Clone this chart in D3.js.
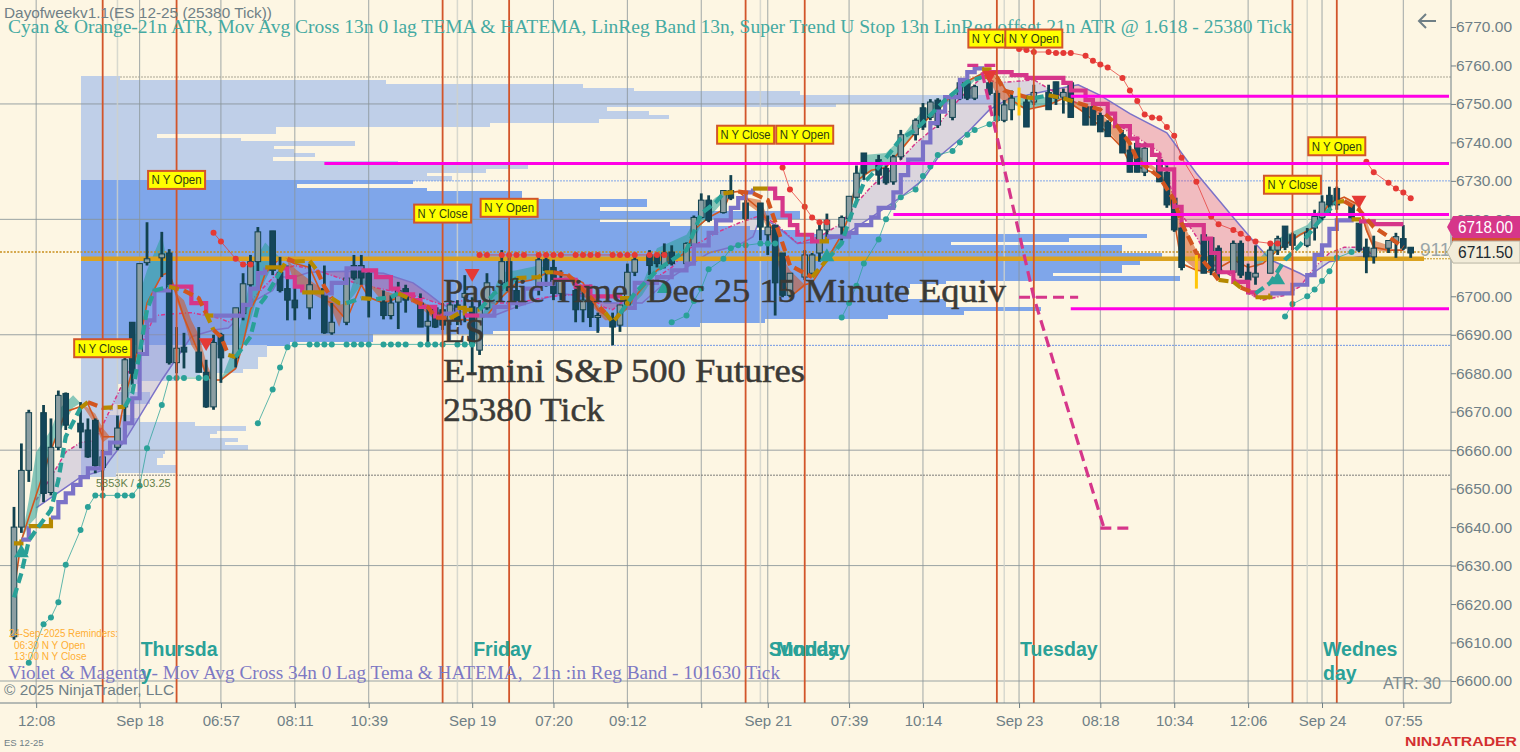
<!DOCTYPE html>
<html>
<head>
<meta charset="utf-8">
<style>
  html, body { margin: 0; padding: 0; background: #fdf6e3; overflow: hidden; }
  svg { display: block; }
  text { font-family: "Liberation Sans", Arial, sans-serif; }
  .serif { font-family: "Liberation Serif", serif; }
</style>
<script src="https://cdn.jsdelivr.net/npm/d3@7"></script>
</head>
<body>
<svg id="chart" width="1520" height="752"></svg>
<script>
// slot = bar number from the left edge of the chart

// [slot, open, high, low, close]
var candles = [
  [0,6611.5,6645.25,6610.75,6640],[1,6640,6661.75,6638.5,6654.75],[2,6654.75,6670.5,6651.75,6669.75],
  [4,6669.75,6671.75,6646.5,6648.75],[5,6649,6668.25,6648.25,6660.75],[6,6660.75,6675.5,6660,6674.25],[7,6674.75,6675,6665.25,6666.5],
  [9,6667,6672.5,6660.5,6664.75],[10,6665.25,6668.25,6658,6658.25],[11,6667.75,6668.25,6654,6656],[12,6655.5,6660,6649.5,6658.25],
  [14,6660.75,6669,6660,6665.75],[15,6671.25,6684.25,6664.5,6683.5],[16,6693.25,6693.25,6677,6680],[17,6685.25,6708.5,6680.75,6708.5],[18,6708.75,6719.25,6708,6709.75],
  [20,6710,6716.75,6705,6711],[21,6711.25,6712.25,6682.25,6682.75],[22,6682.75,6692,6680,6686.5],[23,6686.75,6690.5,6681.25,6685.5],
  [25,6685.5,6692,6680.25,6680.25],[26,6680.25,6683.5,6671,6671.25],[27,6671.25,6690,6670.5,6688],[28,6690,6690.5,6677.5,6684],
  [30,6684,6697,6681.5,6697],[31,6695.5,6706,6693.75,6703.25],[32,6703,6710.75,6701,6709],[33,6709,6718,6705,6716.75],
  [35,6717,6717,6705.5,6706.75],[36,6706.25,6710.25,6701,6701.5],[37,6702,6708,6693.75,6699],[38,6699,6703,6693.75,6697],
  [40,6697,6708.5,6694,6703],[42,6702,6708,6690.25,6690.5],[43,6690.5,6698.25,6690,6693.25],
  [45,6693.25,6705.5,6692.5,6704.75],[46,6708,6710.75,6704.25,6704.75],[47,6708,6710.75,6703,6704.75],[48,6706,6706.75,6694.5,6699.75],
  [50,6698.5,6701.5,6694,6695],[51,6695,6700.25,6694,6698.25],[52,6698.5,6703.75,6691.5,6701.5],[53,6702,6703,6695.75,6699],
  [55,6698.25,6700.75,6692,6692],[56,6692.25,6697.75,6688,6693.5],[57,6697,6697,6691.75,6692],[58,6696.5,6698.25,6691.25,6692.5],
  [59,6693.75,6699,6692.5,6697.75],[60,6697.75,6699,6692.5,6693.75],[61,6699.75,6705.5,6693.25,6700.75],[62,6697.25,6699.75,6679.5,6687.75],
  [63,6686,6699,6684.75,6697],[64,6697,6706,6696.5,6703.5],[66,6703.5,6712,6701.5,6709],[67,6709,6710.25,6701,6701.5],[68,6701.5,6704.25,6696.75,6698.25],
  [71,6702.5,6710.75,6700.25,6709.5],[72,6709.5,6710,6702.5,6706.75],[73,6707.5,6709.5,6699,6700.75],[74,6700.75,6706.75,6699,6704.25],
  [76,6701.5,6704.25,6693.25,6696.5],[77,6696.5,6701.5,6693.25,6699],[78,6699.75,6703,6692,6694.5],[79,6694.5,6695.75,6690.5,6695],
  [81,6693.75,6695.75,6687.25,6692],[82,6692.5,6697.75,6690.75,6697.75],[83,6697.75,6708.5,6697,6706.25],[84,6706.25,6710.25,6705.25,6709.5],
  [86,6710.75,6712,6705.5,6708],[87,6710.75,6711.25,6707.5,6708.5],[88,6708,6713.75,6707.25,6711.25],[89,6711.5,6713.25,6708,6708.5],
  [91,6708.5,6714,6708,6713.75],[92,6713.25,6721,6712.75,6720.5],[93,6720.5,6726.75,6720.25,6725],[94,6725,6726.25,6719.25,6719.75],
  [96,6721.75,6727.5,6721.5,6727.5],[97,6727.5,6731.5,6725,6725.5],[99,6724.25,6726.25,6719.75,6720.25],
  [101,6724.25,6724.25,6714.5,6718],[102,6716,6721,6710.75,6718],[103,6718.5,6718.5,6695,6703.5],[104,6711.25,6711.25,6699.75,6700.25],[105,6700.25,6706,6699.75,6706],
  [107,6705,6712,6704.25,6710.75],[108,6706,6711.25,6705,6710.75],[109,6711.25,6719,6709,6717.25],[110,6717.25,6721.5,6714.5,6719.75],
  [112,6718,6721,6714.5,6720.5],[113,6720.25,6726,6719.75,6726],[114,6725.75,6734,6725,6732],[115,6737.25,6737.25,6730.25,6732],
  [117,6735.5,6736.75,6729,6731.5],[118,6733.25,6734,6729,6729.5],[119,6729.75,6736.75,6729,6736.25],[120,6736.25,6743.25,6735.5,6742],
  [122,6742,6746.25,6740.5,6745.75],[123,6749,6750.25,6743.25,6744],[124,6746.5,6751.25,6745.75,6750.5],[125,6751,6751.5,6743.75,6744.5],
  [127,6746.5,6752,6745.75,6751.5],[128,6755.5,6756.25,6751,6751.5],[129,6755.75,6755.75,6751,6751.5],[130,6751.5,6755,6751,6754.5],
  [132,6755.5,6756.25,6752.25,6752.75],[133,6752.75,6753.5,6745.25,6745.75],[134,6745.75,6751,6745.25,6749.75],[135,6748.5,6753.5,6745.75,6751.5],
  [137,6750.5,6752.25,6744,6744],[138,6750.5,6755,6749.75,6753],[140,6753,6755,6748.5,6748.5],[141,6755.75,6755.75,6749.75,6751.5],[142,6751.75,6754,6747.5,6753],[143,6755.5,6755.5,6746.5,6746.5],
  [145,6749.25,6749.75,6744.5,6744.5],[146,6749.25,6749.75,6744.5,6744.5],[147,6747,6747.75,6742.75,6742.75],[148,6745.25,6745.75,6741.5,6741.5],
  [150,6742,6743.25,6737.25,6737.25],[151,6738,6739.25,6732.25,6732.25],[152,6739.75,6740.5,6732.25,6732.25],[153,6732.25,6739.75,6731.25,6738.5],
  [155,6735.5,6736.75,6729.75,6729.75],[156,6732.25,6734,6723,6723.75],[157,6725.5,6727.5,6716.75,6717.25],[158,6717.75,6718.5,6706.75,6707.5],
  [161,6716,6716,6706,6706],[162,6715.25,6715.25,6705.5,6706.75],[163,6712.5,6713.25,6704.25,6706],
  [165,6706.25,6714.5,6705.5,6713.75],[166,6713.75,6714.5,6704.75,6705.5],[167,6706.25,6708.5,6700.75,6704.25],[168,6705,6713.25,6703,6706],
  [170,6706,6713.25,6706,6712],[171,6712,6715.75,6710.75,6715],[172,6718.25,6718.25,6712,6712.75],[173,6716,6716.5,6712,6713.25],
  [175,6713.25,6717.75,6712.75,6716.5],[176,6717.75,6722.5,6714.5,6720.75],[177,6720.5,6726.25,6719.75,6724.5],[178,6726.25,6728.5,6721,6723.75],[179,6728,6728.5,6722.5,6723.75],
  [181,6723.75,6723.75,6719.75,6720.25],[182,6719,6719,6711.5,6712],[183,6712.75,6715,6706,6710.25],[184,6710.25,6715.75,6708.5,6712.5],
  [186,6712.5,6714.5,6711.25,6714.5],[187,6714,6716.5,6710,6715.5],[188,6715,6718.5,6712,6712.5],[189,6712.75,6712.75,6710,6711.25]
];

// thick dashed moving average: [slot, price, phase] t = up, o = down, g = turning
var fastAvg = [
  [0,6621.75,"t"],[1,6628,"t"],[2,6636.5,"t"],[3,6639.25,"t"],[5,6644.5,"t"],[6,6652.25,"t"],[7,6663.5,"t"],[9,6671,"g"],[10,6672.5,"o"],[12,6671,"g"],
  [15,6671.25,"t"],[16,6674.75,"t"],[17,6685.25,"t"],[18,6696.5,"t"],[19,6701.5,"t"],[21,6702.5,"g"],[23,6701.5,"o"],[25,6699.5,"o"],[26,6695.5,"g"],
  [27,6691.25,"o"],[28,6689.5,"o"],[29,6684.75,"g"],[30,6684.25,"t"],[32,6689.5,"t"],[33,6697.25,"t"],[34,6699.75,"t"],[36,6706.25,"g"],[37,6709.75,"o"],
  [38,6709,"g"],[40,6709.25,"g"],[41,6706.75,"o"],[42,6702.5,"o"],[43,6699.5,"g"],[44,6698.25,"g"],[45,6698.25,"t"],[47,6699.5,"g"],[49,6699.25,"t"],
  [51,6699.75,"t"],[52,6700.75,"g"],[54,6699,"o"],[56,6697.25,"o"],[57,6694.5,"o"],[59,6694.25,"g"],[61,6696.5,"g"],[63,6696.5,"t"],[65,6700.75,"t"],
  [67,6703.5,"t"],[68,6704.75,"g"],[71,6705,"g"],[72,6706.25,"g"],[73,6706.25,"o"],[75,6705.5,"o"],[78,6699.75,"o"],[80,6695.75,"g"],[81,6693.25,"g"],
  [82,6695.5,"t"],[84,6700.75,"t"],[87,6706.75,"t"],[91,6712,"t"],[93,6721.5,"t"],[95,6724.5,"t"],[96,6726.75,"g"],[98,6727.25,"o"],[100,6726.75,"o"],
  [102,6725,"o"],[104,6713.75,"o"],[105,6708,"o"],[108,6705,"g"],[110,6709.5,"t"],[112,6713.75,"t"],[113,6719.75,"t"],[115,6729.5,"t"],[117,6733.5,"t"],
  [120,6741,"t"],[122,6743.25,"t"],[126,6751,"t"],[129,6755.75,"t"],[131,6757,"g"],[133,6757,"o"],[134,6753.5,"o"],[137,6751.75,"g"],[138,6751.5,"t"],
  [140,6752.25,"g"],[142,6751.5,"g"],[144,6750.25,"o"],[147,6748.5,"o"],[149,6745,"o"],[151,6739.75,"o"],[152,6735.5,"o"],[155,6731,"o"],[157,6725,"o"],
  [158,6719,"o"],[160,6711.25,"o"],[162,6706.75,"o"],[163,6704.25,"g"],[165,6703.75,"g"],[166,6702.25,"o"],[168,6700.75,"t"],[170,6703.5,"t"],[172,6709.5,"t"],
  [174,6713.25,"t"],[177,6720.5,"t"],[179,6724.5,"g"],[180,6724.75,"o"],[182,6722.5,"o"],[184,6718,"o"],[186,6715.5,"o"],[188,6712.75,"o"]
];

// thin orange average: [slot, price]
var slowAvg = [
  [0,6623.5],[1,6636.5],[2,6642.5],[5,6660],[7,6670],[10,6672],[12,6663.5],[14,6663.5],[15,6673.75],[17,6687.75],[18,6698.25],[20,6705.5],[21,6706.25],
  [23,6694.5],[25,6685.25],[26,6679.5],[27,6678.25],[28,6678.25],[30,6681.25],[31,6687.75],[32,6696.5],[33,6700.25],[34,6706],[36,6710],[38,6708.5],[40,6707.5],
  [42,6699],[43,6698.25],[45,6693.75],[46,6698.5],[47,6703],[48,6699.75],[50,6698.25],[53,6700.25],[54,6699.5],[56,6697.25],[57,6696.5],[58,6694.25],[62,6693.75],
  [64,6695],[66,6699.75],[68,6703.5],[70,6704.25],[72,6706],[75,6705.5],[77,6703.5],[79,6696.5],[81,6693.75],[83,6697],[84,6699.75],[87,6706.75],[91,6711.5],
  [92,6717.25],[94,6720.5],[96,6722.5],[97,6727],[98,6727.25],[101,6722.5],[103,6716.5],[104,6704.25],[105,6699.75],[107,6703],[108,6703.5],[110,6709.5],[112,6716],
  [113,6721],[114,6730],[116,6732.75],[118,6733.5],[120,6738],[123,6745],[126,6750.25],[128,6755],[132,6758.75],[133,6757.5],[135,6751],[137,6748.5],[140,6749.75],
  [142,6751.5],[145,6747.5],[148,6742.5],[150,6738.5],[151,6734.5],[154,6732.25],[156,6729.5],[157,6719.75],[158,6708.5],[160,6706.75],[162,6706.25],[165,6709.5],
  [167,6707.5],[169,6708.5],[171,6712],[174,6716],[176,6718],[178,6724.25],[180,6725.75],[182,6723.75],[183,6717.25],[184,6712.75],[186,6712],[188,6712]
];

// ribbon between the averages, one list per run: [slot, edge, edge]
var ribbonUp = [
  [[1,6636.5,6636.5],[2,6647,6640.5],[3,6659.5,6642.5],[5,6665.25,6660],[6,6670.5,6664],[8,6674.25,6671],[9,6672.25,6672.25]],
  [[15,6670.5,6669],[16,6682.5,6678.25],[17,6700.75,6687.75],[18,6706.75,6698.25],[20,6716,6705.5],[21,6706.25,6706.25]],
  [[28,6678.25,6678.25],[30,6688,6681.5],[31,6695.5,6687.75],[32,6705,6693.75],[33,6710.75,6700.25],[34,6714,6704.25],[35,6712,6708],[36,6710,6710]],
  [[45,6698.25,6698.25],[46,6704.25,6700.25],[47,6705.5,6703],[48,6703,6703]],
  [[63,6693.75,6693.75],[64,6697.75,6695],[66,6706.25,6699.75],[68,6706.75,6703.5],[71,6708,6704.25],[72,6707.25,6706]],
  [[81,6693.75,6693.75],[83,6699,6696.5],[85,6703,6700.25],[87,6712.5,6706.25],[91,6716,6710.75],[93,6722.5,6718.5],[95,6725.75,6722.5],[97,6727.5,6727]],
  [[108,6703.5,6703.5],[110,6710,6709],[112,6716,6713.75],[114,6730.75,6727.5],[115,6736.75,6731.5],[118,6737.25,6733.5],[120,6741,6738],[123,6748.5,6745.25],[126,6751,6749.75],[129,6755.75,6754],[131,6758.25,6758.25]],
  [[135,6751.75,6750],[137,6751.75,6748.5],[140,6751.75,6749.75],[142,6751.5,6751.5]],
  [[168,6708.75,6707.25],[171,6715,6712],[175,6718.5,6716.75],[177,6723.25,6719.25],[179,6726.75,6725]]
];
var ribbonDown = [
  [[9,6672.25,6672.25],[10,6671,6669.5],[11,6669.5,6666.5],[12,6665.75,6662],[13,6663.5,6663.5]],
  [[21,6706.25,6706.25],[22,6700.75,6699],[23,6699,6693.75],[24,6693.75,6687.25],[25,6690,6684.25],[26,6683,6678.75],[27,6678.25,6678.25]],
  [[36,6710,6710],[37,6709.5,6709],[38,6707.25,6703],[40,6704.25,6701],[42,6701.5,6699],[43,6699,6696.5],[44,6697.75,6692],[45,6698.25,6698.25]],
  [[48,6703,6703],[50,6701.5,6698.25],[52,6700.25,6699.75]],
  [[53,6700.25,6699.75],[55,6699,6697],[57,6696.5,6693.75],[59,6694.25,6693.25]],
  [[73,6706.25,6706.25],[75,6705.5,6704.25],[77,6701.5,6700.25],[79,6697.75,6695.75],[80,6695,6693.75],[81,6693.75,6693.75]],
  [[99,6725.75,6724.25],[101,6725,6721.5],[102,6720.5,6717.25],[103,6716,6710.75],[104,6710,6704.25],[105,6706.75,6699.75],[107,6703,6702.5]],
  [[132,6758.75,6756.25],[133,6757.5,6752.25],[134,6754,6750.5],[135,6752.25,6749.75]],
  [[143,6751,6749.75],[146,6749.25,6746.5],[148,6745.75,6743.25],[150,6742,6738.5],[152,6736.75,6734.75],[155,6732.75,6732],[157,6726.25,6722.5],[158,6719.75,6710],[160,6712,6706.75],[161,6708.75,6706.25]],
  [[180,6725.5,6725.5],[182,6723.75,6723],[183,6719.75,6716.75],[184,6714.5,6712],[186,6713.25,6711.5]]
];

// stepped stop line: [slot, price, phase] v = up, m = down, g = turning
var stopLine = [
  [0,6635.75,"g"],[1,6636.75,"v"],[2,6640.25,"g"],[5,6642.5,"v"],[6,6646.5,"v"],[7,6648.75,"v"],[8,6651,"v"],[9,6653,"v"],[10,6655.25,"v"],[12,6659.25,"v"],[13,6662,"v"],
  [15,6667,"v"],[16,6673.5,"v"],[17,6685,"v"],[18,6693.75,"v"],[19,6701.5,"v"],[21,6702.5,"m"],[24,6698.25,"m"],[26,6695,"g"],[27,6695,"v"],[31,6697.75,"v"],[32,6702,"v"],
  [33,6706,"v"],[34,6707.5,"g"],[36,6707.25,"m"],[37,6705,"m"],[38,6702.5,"m"],[39,6701,"g"],[42,6700.75,"v"],[43,6703.5,"v"],[45,6707.25,"v"],[47,6706.75,"m"],[49,6705,"m"],
  [51,6702,"m"],[52,6700.5,"m"],[54,6699,"m"],[55,6697.25,"m"],[57,6694.75,"m"],[58,6695.5,"v"],[60,6697,"g"],[61,6695,"m"],[63,6695,"v"],[65,6697.25,"v"],[67,6698.25,"v"],
  [69,6702,"v"],[71,6703.25,"v"],[73,6704.25,"m"],[76,6702.5,"m"],[78,6700,"m"],[82,6699.5,"g"],[83,6697,"v"],[84,6703.5,"v"],[87,6705,"v"],[89,6706.75,"v"],[91,6708.5,"v"],
  [92,6713.25,"v"],[94,6716.5,"v"],[95,6719.75,"v"],[97,6723,"v"],[98,6725.5,"v"],[99,6727,"v"],[100,6728,"g"],[102,6728,"m"],[103,6725.5,"m"],[104,6721,"m"],[105,6718.5,"m"],
  [106,6716,"m"],[108,6714.25,"m"],[109,6714.25,"g"],[110,6715.5,"v"],[113,6716.5,"v"],[114,6718.5,"v"],[116,6720.5,"v"],[117,6723,"v"],[119,6727,"v"],[120,6731.5,"v"],[121,6735.5,"v"],
  [123,6740,"v"],[124,6745,"v"],[125,6748,"v"],[126,6751.75,"v"],[128,6756.25,"v"],[129,6758.25,"v"],[130,6759.25,"v"],[131,6759,"g"],[132,6758.25,"m"],[135,6757.5,"m"],[137,6756.75,"m"],
  [142,6755.5,"m"],[143,6753.5,"m"],[145,6751,"m"],[146,6750,"m"],[148,6747.5,"m"],[149,6744.25,"m"],[151,6741,"m"],[152,6739.25,"m"],[154,6736.75,"m"],[155,6733,"m"],[157,6723.25,"m"],
  [158,6718.5,"m"],[161,6715,"m"],[162,6711.25,"m"],[163,6706.25,"m"],[165,6703.75,"m"],[167,6701,"m"],[168,6699.75,"g"],[170,6700.75,"v"],[173,6703,"v"],[175,6705.5,"v"],[176,6710.75,"v"],
  [177,6713.25,"v"],[178,6717.5,"v"],[179,6719.75,"v"],[181,6720,"g"],[182,6719.5,"m"],[184,6718.75,"m"],[188,6718.75,"m"]
];

// regression band edges: [slot, price]
var bandLine = [
  [3,6645],[9,6653],[12,6654.75],[13,6657.5],[15,6662.5],[20,6678.25],[23,6686.75],[24,6689.5],[27,6691.25],[29,6691.75],[31,6695.5],[32,6698.25],[35,6701.5],[36,6705],[38,6705],[40,6706.25],
  [45,6706.5],[50,6706],[54,6703.5],[56,6700.75],[58,6697.75],[62,6695],[65,6695],[68,6697.25],[71,6699],[74,6700.75],[78,6699.75],[80,6698.25],[85,6698.25],[89,6705],[94,6711.25],[98,6713.25],
  [100,6715.5],[101,6720.5],[103,6718.5],[106,6713.75],[108,6714],[112,6715.5],[116,6720.5],[120,6725.75],[123,6730.25],[125,6736],[129,6742.5],[132,6748.5],[135,6751.75],[137,6752.25],[140,6753.5],
  [144,6755],[147,6752.25],[151,6747.5],[156,6742.5],[160,6732],[165,6720.5],[168,6713.75],[170,6709.5],[174,6706],[175,6705],[178,6709],[182,6710.25],[184,6710.5]
];
var bandDash = [
  [3,6647],[5,6653],[7,6659.5],[9,6662],[11,6662.5],[18,6690.5],[19,6695],[22,6695.5],[24,6695.75],[28,6694.25],[29,6693.25],[31,6696.5],[33,6700.75],[36,6706.75],[38,6708],[41,6706.75],[44,6704.75],[47,6703],
  [52,6701],[55,6699.75],[58,6697.75],[61,6699],[65,6698.25],[68,6698.25],[72,6699.75],[77,6700.75],[80,6697],[81,6696.5],[85,6702.5],[89,6707.5],[91,6712],[95,6716.5],[98,6719],[101,6721],
  [103,6719],[106,6713.75],[109,6715.5],[112,6719],[114,6724.25],[116,6728.5],[119,6733.5],[122,6739.75],[125,6744.5],[128,6751.5],[131,6757],[133,6755.5],[138,6756.25],[142,6751.75],[145,6749.25],
  [148,6746.5],[151,6742.5],[155,6737.5],[156,6732.75],[157,6724.25],[160,6715.5],[162,6708.5],[165,6705],[167,6700.75],[169,6699],[172,6700.25],[174,6702.5],[176,6707.5],[178,6711.25],[180,6712.75],[182,6712.75],[184,6710.75]
];

// ATR stop dots, one list per run: [slot, price]
var redDots = [
  [[27,6716.5],[28,6714.25],[30,6709.75],[31,6708.25],[32,6708.25]],
  [[63,6710.75],[64,6710.75],[66,6710.75],[67,6710.75],[68,6710.75],[69,6710.75],[71,6710.75],[72,6710.75],[73,6710.75],[74,6710.75],[76,6710.75],[77,6710.75],[78,6710.75],[79,6710.75],[81,6710.75],[82,6710.75],[83,6710.75],[84,6710.75],[86,6710.75],[87,6710.75],[88,6710.75]],
  [[104,6733.5],[105,6727.75],[107,6723.25],[108,6720.5],[109,6719.25],[110,6719.25]],
  [[136,6764.25],[137,6764],[138,6763.5],[140,6763.5],[141,6763.25],[142,6763.25],[143,6763.25],[145,6762.5],[146,6761.25],[147,6760.25],[148,6759.5],[150,6756.75],[151,6753.5],[152,6750.75],[153,6747.25],[154,6746.5],[155,6746.25],[156,6744],[157,6741.75],[158,6736],[160,6729.75],[162,6720.75],[163,6718.75],[165,6717.25],[166,6716.25],[167,6715],[168,6714.25],[170,6713.75],[171,6713.75]],
  [[183,6735],[184,6732.25],[186,6729.5],[187,6728],[188,6727],[189,6725.5]]
];
var tealDots = [
  [[2,6604.75],[4,6614.75],[5,6616.5],[6,6620.5],[7,6630.25],[9,6639.25],[10,6645.25],[11,6648.25],[12,6648.25],[14,6648.25],[15,6648.25],[16,6648.25],[17,6650.75],[18,6660.5],[20,6671.75],[21,6678.75],[22,6678.75],[23,6678.75],[25,6678.75],[26,6678.75]],
  [[33,6667],[35,6675.75],[36,6681.5],[37,6686.75],[38,6687.5],[40,6687.5],[41,6687.5],[42,6687.5],[43,6687.5],[45,6687.5],[46,6687.5],[47,6687.5],[48,6687.5],[50,6687.5],[51,6687.5],[52,6687.5],[53,6687.5],[55,6687.5],[56,6687.5],[57,6687.5],[58,6687.5],[60,6687.5],[61,6687.5],[62,6687.5]],
  [[89,6693.25],[91,6695],[92,6698.75],[93,6702],[94,6707],[96,6709.75],[97,6712.5],[98,6713.25],[99,6713.25],[101,6713.75],[102,6713.75],[103,6713.75]],
  [[112,6694.5],[113,6698.25],[114,6702.75],[115,6708.5],[117,6714.75],[118,6720],[119,6723.5],[120,6725.75],[122,6727.75],[123,6731.25],[124,6733.75],[125,6736.75],[127,6737.75],[128,6740],[129,6742],[130,6743.25],[132,6744.75],[133,6746.25]],
  [[172,6694.75],[173,6698],[175,6700],[176,6701.75],[177,6704],[178,6706.5],[179,6710],[181,6711.5]]
];

// big swing line: one list per leg
var swingLegs = [
  [[129,6760],[133,6760]],
  [[131,6758.25],[138,6699.75],[147.5,6639.75]],
  [[136,6699.75],[144,6699.75]],
  [[147,6639.75],[151,6639.75]]
];

// volume profile, one value for each 1 point bin going down from the top price
var profileTop = 6757.25;
var profileVolumes = [
  39,305,502,553,719,912,912,755,526,568,588,518,409,195,195,76,160,274,193,213,234,192,317,447,405,346,371,
  332,216,346,441,441,566,566,519,719,719,519,589,669,719,1066,988,870,1041,1041,1081,1097,1059,1041,1041,972,1099,865,829,827,827,827,865,865,960,883,807,684,619,519,412,292,292,209,
  186,186,186,177,177,177,162,119,94,59,37,37,69,69,69,32,32,27,49,59,114,165,136,129,157,144,167,84,82,76,76,96,96,35
];
var valueAreaFirst = 27, valueAreaLast = 69;

// levels: [start slot, price]
var magentaLevels = [[143,6752],[42,6734.5],[119,6721.25],[143,6696.75]];
var pocPrice = 6709.75, lastPrice = 6711.5;

var yTicks = d3.range(6600, 6771, 10);
var gridPrices = [6750, 6720, 6690, 6660, 6630, 6600];
var xTickSlots = [3,17,28,38,48,62,73,83,93,102,113,123,136,147,157,167,177,188];
var xTickLabels = ["12:08","Sep 18","06:57","08:11","10:39","Sep 19","07:20","09:12","","Sep 21","07:39","10:14","Sep 23","08:18","10:34","12:06","Sep 24","07:55"];
var sessionSlots = [12,22,58,67,99,107,133,138,173,179];
var lightSlots = [14,60,101,134,175];

// [slot, price, label]
var flags = [
  [12,6686.5,"N Y Close"],[22,6730.25,"N Y Open"],[58,6721.5,"N Y Close"],[67,6723,"N Y Open"],[99,6742,"N Y Close"],[107,6742,"N Y Open"],
  [133,6767,"N Y Close"],[138,6767,"N Y Open"],[173,6729,"N Y Close"],[179,6739,"N Y Open"]
];
var downMarkers = [[62,6706],[26,6688],[132,6757.5],[182,6725]];
var upMarkers = [[1,6633.25],[88,6702],[110,6710.25],[171,6704.25]];
var yellowBars = [[136,6754.25,6747],[160,6710.75,6702]];

// [slot, label]
var dayLabels = [[17,"Thursda"],[62,"Friday"],[102,"Sunday"],[103,"Monday"],[136,"Tuesday"],[177,"Wednes"]];
var dayWraps = [[17,"y"],[177,"day"]];

(function () {
  "use strict";

  var W = 1520, H = 752, plotRight = 1451, plotBottom = 703;
  var svg = d3.select("#chart");

  var x = d3.scaleLinear().domain([0, 189]).range([14, 1410.7]);
  var y = d3.scaleLinear().domain([6600, 6770]).range([681, 27]);

  var C = {
    bg: "#fdf6e3", axis: "#6f7f86", grid: "#8a9599",
    teal: "#2aa198", orange: "#d2561f", gold: "#b58900",
    violet: "#7b72c8", magenta: "#d6368a", level: "#ff00e6",
    session: "#d2552a", dark: "#12424f", bar: "#8c9fa3",
    profile: "#bfcfe8", profileValue: "#7fa6ea", red: "#e53935"
  };
  var phaseColor = { t: C.teal, o: C.orange, g: C.gold, v: C.violet, m: C.magenta };

  svg.append("rect").attr("width", W).attr("height", H).attr("fill", C.bg);

  svg.append("defs").append("clipPath").attr("id", "plot-clip")
    .append("rect").attr("width", plotRight).attr("height", plotBottom);

  var plot = svg.append("g").attr("clip-path", "url(#plot-clip)");

  // ── Volume profile ─────────────────────────────────────────────────────
  var volX = d3.scaleLinear().domain([0, 1370]).range([81, 1451]);
  plot.append("g").attr("shape-rendering", "crispEdges").selectAll("rect")
    .data(profileVolumes)
    .join("rect")
    .attr("x", volX(0))
    .attr("y", function (d, i) { return y(profileTop - i); })
    .attr("width", function (d) { return volX(d) - volX(0); })
    .attr("height", y(0) - y(1) + 0.6)
    .attr("fill", function (d, i) {
      return i >= valueAreaFirst && i <= valueAreaLast ? C.profileValue : C.profile;
    });

  // ── Grid ───────────────────────────────────────────────────────────────
  plot.append("g").selectAll("line")
    .data(gridPrices)
    .join("line")
    .attr("x1", 0).attr("x2", plotRight)
    .attr("y1", function (d) { return y(d); }).attr("y2", function (d) { return y(d); })
    .attr("stroke", C.grid).attr("stroke-width", 1).attr("opacity", 0.85);

  plot.append("g").selectAll("line")
    .data(xTickSlots)
    .join("line")
    .attr("x1", function (d) { return x(d); }).attr("x2", function (d) { return x(d); })
    .attr("y1", 0).attr("y2", plotBottom)
    .attr("stroke", C.grid).attr("stroke-width", 1).attr("opacity", 0.8);

  plot.append("g").selectAll("line")
    .data(lightSlots)
    .join("line")
    .attr("x1", function (d) { return x(d); }).attr("x2", function (d) { return x(d); })
    .attr("y1", 0).attr("y2", plotBottom)
    .attr("stroke", "#cfd2cb").attr("stroke-width", 1.5).attr("opacity", 0.8);

  // dotted reference lines
  function refLine(price, x0, color, dash) {
    plot.append("line")
      .attr("x1", x0).attr("x2", plotRight)
      .attr("y1", y(price)).attr("y2", y(price))
      .attr("stroke", color).attr("stroke-width", 1).attr("stroke-dasharray", dash);
  }
  refLine(6757, 120, "#a9a594", "2 1");
  refLine(6730, 413, "#7fa6ea", "2 1");
  refLine(6687.25, 473, "#6f96e4", "2 1");
  refLine(6653.5, 116, "#7c7c78", "2 1");

  // ── Regression band ────────────────────────────────────────────────────
  var lineAt = d3.scaleLinear().domain(bandLine.map(function (d) { return d[0]; })).range(bandLine.map(function (d) { return d[1]; }));
  var dashAt = d3.scaleLinear().domain(bandDash.map(function (d) { return d[0]; })).range(bandDash.map(function (d) { return d[1]; }));
  var bandArea = d3.area().x(function (d) { return x(d); })
    .y0(function (d) { return y(lineAt(d)); }).y1(function (d) { return y(dashAt(d)); });

  // one run per colour, so the slices do not show seams
  var bandRuns = [], bandCur = null;
  d3.range(3, 184).forEach(function (s) {
    var up = dashAt(s + 0.5) >= lineAt(s + 0.5);
    if (!bandCur || bandCur.up !== up) {
      bandCur = { up: up, slots: [s] };
      bandRuns.push(bandCur);
    }
    bandCur.slots.push(s + 1);
  });
  plot.append("g").selectAll("path").data(bandRuns).join("path")
    .attr("d", function (d) { return bandArea(d.slots); })
    .attr("fill", function (d) { return d.up ? "#8f88cf" : "#d6366f"; })
    .attr("opacity", 0.3);

  var thin = d3.line().x(function (d) { return x(d[0]); }).y(function (d) { return y(d[1]); });
  plot.append("path").attr("d", thin(bandLine)).attr("fill", "none")
    .attr("stroke", C.violet).attr("stroke-width", 1.5);
  plot.append("path").attr("d", thin(bandDash)).attr("fill", "none")
    .attr("stroke", C.magenta).attr("stroke-width", 1.5).attr("stroke-dasharray", "4 2 1 2");

  // ── Ribbon between the averages ────────────────────────────────────────
  var ribbon = d3.area().x(function (d) { return x(d[0]); })
    .y0(function (d) { return y(d[1]); }).y1(function (d) { return y(d[2]); });
  plot.append("g").selectAll("path").data(ribbonUp).join("path")
    .attr("d", ribbon).attr("fill", C.teal).attr("opacity", 0.55);
  plot.append("g").selectAll("path").data(ribbonDown).join("path")
    .attr("d", ribbon).attr("fill", C.orange).attr("opacity", 0.55);

  plot.append("path").attr("d", thin(slowAvg)).attr("fill", "none")
    .attr("stroke", C.orange).attr("stroke-width", 1.6);

  // POC line and last price
  plot.append("line")
    .attr("x1", volX(0)).attr("x2", 1424)
    .attr("y1", y(pocPrice)).attr("y2", y(pocPrice))
    .attr("stroke", "#dba21f").attr("stroke-width", 4.5);
  plot.append("line")
    .attr("x1", 1424).attr("x2", plotRight)
    .attr("y1", y(pocPrice)).attr("y2", y(pocPrice))
    .attr("stroke", "#c79a1f").attr("stroke-width", 1).attr("stroke-dasharray", "2 1");
  plot.append("line")
    .attr("x1", 0).attr("x2", plotRight)
    .attr("y1", y(lastPrice)).attr("y2", y(lastPrice))
    .attr("stroke", "#c88f1c").attr("stroke-width", 1.4).attr("stroke-dasharray", "2 1.5");

  // ── Candles ────────────────────────────────────────────────────────────
  var candle = plot.append("g").selectAll("g").data(candles).join("g");
  candle.append("line")
    .attr("x1", function (d) { return x(d[0]); }).attr("x2", function (d) { return x(d[0]); })
    .attr("y1", function (d) { return y(d[2]); }).attr("y2", function (d) { return y(d[3]); })
    .attr("stroke", C.dark).attr("stroke-width", 2.8);
  candle.append("rect")
    .attr("x", function (d) { return x(d[0]) - 2.8; })
    .attr("width", 5.6)
    .attr("y", function (d) { return y(Math.max(d[1], d[4])); })
    .attr("height", function (d) { return Math.max(1, Math.abs(y(d[1]) - y(d[4]))); })
    .attr("fill", function (d) { return d[4] >= d[1] ? C.bar : "#14465a"; })
    .attr("stroke", C.dark).attr("stroke-width", 1);

  // ── Red and teal stop dots ─────────────────────────────────────────────
  function dots(runs, color) {
    var g = plot.append("g");
    runs.forEach(function (run) {
      g.append("path").attr("d", thin(run)).attr("fill", "none")
        .attr("stroke", color).attr("stroke-width", 1).attr("opacity", 0.75);
      g.append("g").selectAll("circle").data(run).join("circle")
        .attr("cx", function (d) { return x(d[0]); })
        .attr("cy", function (d) { return y(d[1]); })
        .attr("r", 3).attr("fill", color);
    });
  }
  dots(redDots, C.red);
  dots(tealDots, C.teal);

  // ── Phase coloured lines: split at every colour change ─────────────────
  function runsOf(rows) {
    var runs = [], cur = null;
    rows.forEach(function (r) {
      if (!cur || cur.phase !== r[2]) {
        if (cur) cur.rows.push(r);
        cur = { phase: r[2], rows: [r] };
        runs.push(cur);
      } else {
        cur.rows.push(r);
      }
    });
    return runs;
  }

  var stepLine = d3.line().x(function (d) { return x(d[0]); }).y(function (d) { return y(d[1]); }).curve(d3.curveStepAfter);
  plot.append("g").selectAll("path").data(runsOf(stopLine)).join("path")
    .attr("d", function (d) { return stepLine(d.rows); })
    .attr("fill", "none")
    .attr("stroke", function (d) { return phaseColor[d.phase]; })
    .attr("stroke-width", 4.2);

  plot.append("g").selectAll("path").data(runsOf(fastAvg)).join("path")
    .attr("d", function (d) { return thin(d.rows); })
    .attr("fill", "none")
    .attr("stroke", function (d) { return phaseColor[d.phase]; })
    .attr("stroke-width", 4.2)
    .attr("stroke-dasharray", "10 5");

  // ── Session lines, levels, swing ───────────────────────────────────────
  plot.append("g").selectAll("line").data(sessionSlots).join("line")
    .attr("x1", function (d) { return x(d); }).attr("x2", function (d) { return x(d); })
    .attr("y1", 0).attr("y2", plotBottom)
    .attr("stroke", C.session).attr("stroke-width", 1.8);

  plot.append("g").selectAll("line").data(magentaLevels).join("line")
    .attr("x1", function (d) { return x(d[0]); }).attr("x2", 1449)
    .attr("y1", function (d) { return y(d[1]); }).attr("y2", function (d) { return y(d[1]); })
    .attr("stroke", C.level).attr("stroke-width", 3);

  plot.append("g").selectAll("path").data(swingLegs).join("path")
    .attr("d", thin).attr("fill", "none")
    .attr("stroke", C.magenta).attr("stroke-width", 3.2).attr("stroke-dasharray", "11 6");

  plot.append("g").selectAll("line").data(yellowBars).join("line")
    .attr("x1", function (d) { return x(d[0]); }).attr("x2", function (d) { return x(d[0]); })
    .attr("y1", function (d) { return y(d[1]); }).attr("y2", function (d) { return y(d[2]); })
    .attr("stroke", "#ffc60a").attr("stroke-width", 3);

  // ── Triangles ──────────────────────────────────────────────────────────
  var tri = d3.symbol().type(d3.symbolTriangle).size(95);
  plot.append("g").selectAll("path").data(downMarkers).join("path")
    .attr("d", tri)
    .attr("transform", function (d) { return "translate(" + x(d[0]) + "," + y(d[1]) + ") rotate(180)"; })
    .attr("fill", C.red);
  plot.append("g").selectAll("path").data(upMarkers).join("path")
    .attr("d", tri)
    .attr("transform", function (d) { return "translate(" + x(d[0]) + "," + y(d[1]) + ")"; })
    .attr("fill", C.teal);

  // ── Axes ───────────────────────────────────────────────────────────────
  var xAxis = d3.axisBottom(x).tickValues(xTickSlots).tickSize(5).tickPadding(7)
    .tickFormat(function (d, i) { return xTickLabels[i]; });
  var xg = svg.append("g").attr("transform", "translate(0," + plotBottom + ")").call(xAxis);
  xg.select(".domain").attr("d", "M0,0H" + plotRight);
  xg.selectAll("text").attr("fill", C.axis).attr("font-size", 15).attr("font-family", "Liberation Sans");
  xg.selectAll("line, .domain").attr("stroke", C.axis);

  var yAxis = d3.axisRight(y).tickValues(yTicks).tickSize(5).tickPadding(0)
    .tickFormat(d3.format(".2f"));
  var yg = svg.append("g").attr("transform", "translate(" + plotRight + ",0)").call(yAxis);
  yg.select(".domain").attr("d", "M0,0V" + plotBottom);
  yg.selectAll("text").attr("fill", C.axis).attr("font-size", 15.5).attr("font-family", "Liberation Sans");
  yg.selectAll("line, .domain").attr("stroke", C.axis);

  // ── Text over the chart ────────────────────────────────────────────────
  function label(cls, str, px, py, size, color, width, weight) {
    var t = svg.append("text")
      .attr("x", px).attr("y", py)
      .attr("font-size", size).attr("fill", color)
      .style("white-space", "pre")
      .text(str);
    if (cls) t.attr("class", cls);
    if (width) t.attr("textLength", width).attr("lengthAdjust", "spacingAndGlyphs");
    if (weight) t.attr("font-weight", weight);
    return t;
  }

  label("", "Dayofweekv1.1(ES 12-25 (25380 Tick))", 4, 18, 14.5, "#6f7f86", 268);
  label("serif", "Cyan & Orange-21n ATR, Mov Avg Cross 13n 0 lag TEMA & HATEMA, LinReg Band 13n, Super Trend U Stop 13n LinReg offset 21n ATR @ 1.618 - 25380 Tick", 8, 33, 19, "#45aaa2", 1284);

  var inkBig = "#3b3a36";
  function bigLabel(str, py, width) {
    label("serif", str, 443, py, 33, inkBig, width)
      .attr("stroke", inkBig).attr("stroke-width", 0.5);
  }
  bigLabel("Pacific Time  Dec 25 15 Minute Equiv", 302, 563);
  bigLabel("ES", 342, 42);
  bigLabel("E-mini S&P 500 Futures", 382, 362);
  bigLabel("25380 Tick", 421, 161);

  label("", "5353K / 103.25", 96, 487, 11, "#64804a");

  dayLabels.forEach(function (d) {
    label("", d[1], x(d[0]) + 1, 656, 19.5, C.teal, 0, "bold").attr("text-anchor", "start");
  });
  dayWraps.forEach(function (d) {
    label("", d[1], x(d[0]) + 1, 680, 19.5, C.teal, 0, "bold");
  });

  label("", "24-Sep-2025 Reminders:", 9, 637, 10, "#ffae33", 109);
  label("", "06:30 N Y Open", 14, 649, 10, "#ffae33");
  label("", "13:00 N Y Close", 14, 660, 10, "#ffae33");

  label("serif", "Violet & Magenta - Mov Avg Cross 34n 0 Lag Tema & HATEMA,  21n :in Reg Band - 101630 Tick", 8, 679, 19, "#7d79c4", 772);
  label("", "© 2025 NinjaTrader, LLC", 4, 695, 15.5, "#6f7f86", 170);
  label("", "ATR: 30", 1383, 689, 16, "#7c8a8f", 58);
  label("", "ES 12-25", 4, 746, 9.5, "#6f7f86");
  label("", "911", 1420, 256, 19, "#9aa6aa");

  // back arrow
  svg.append("path")
    .attr("d", "M1436,21H1419M1426,14L1419,21L1426,28")
    .attr("fill", "none").attr("stroke", "#6f7f86").attr("stroke-width", 2);

  // logo
  label("", "NINJATRADER", 1405, 746, 13.5, "#d32f2f", 112, "bold");

  // ── N Y flags ──────────────────────────────────────────────────────────
  var flag = svg.append("g").selectAll("g").data(flags).join("g")
    .attr("transform", function (d) { return "translate(" + x(d[0]) + "," + y(d[1]) + ")"; });
  flag.append("rect")
    .attr("x", -28.5).attr("y", -9).attr("width", 57).attr("height", 18)
    .attr("fill", "#ffff00").attr("stroke", "#d2552a").attr("stroke-width", 2);
  flag.append("text")
    .attr("text-anchor", "middle").attr("y", 4.5)
    .attr("font-size", 12.5).attr("fill", "#2d3b10")
    .attr("textLength", 50).attr("lengthAdjust", "spacingAndGlyphs")
    .text(function (d) { return d[2]; });

  // ── Price tags ─────────────────────────────────────────────────────────
  var tagY = y(6718), lastY = y(lastPrice);
  svg.append("rect")
    .attr("x", 1452).attr("y", tagY + 10).attr("width", 68).attr("height", 8)
    .attr("fill", C.session);
  svg.append("path")
    .attr("d", "M1447," + tagY + "L1453," + (tagY - 11) + "H1520V" + (tagY + 11) + "H1453Z")
    .attr("fill", C.magenta);
  label("", "6718.00", 1458, tagY + 6, 16, "#ffffff", 55);
  svg.append("path")
    .attr("d", "M1447," + lastY + "L1453," + (lastY - 11) + "H1520V" + (lastY + 11) + "H1453Z")
    .attr("fill", "#f2ecd9").attr("stroke", "#b9b5a4").attr("stroke-width", 1);
  label("", "6711.50", 1458, lastY + 6, 16, "#1d2a30", 55);
})();
</script>
</body>
</html>
